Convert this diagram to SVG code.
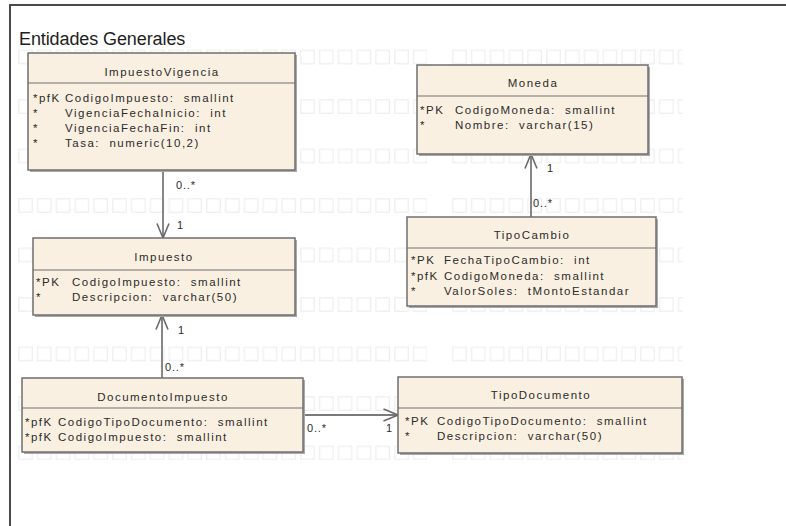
<svg xmlns="http://www.w3.org/2000/svg" width="786" height="526" viewBox="0 0 786 526">
<style>
  .frame { stroke: #4a4a4a; stroke-width: 2; fill: none; }
  .title { font-family: "Liberation Sans", Arial, sans-serif; font-size: 18px; fill: #1e1e1e; letter-spacing: -0.1px; }
  .shadow { fill: #a9a9a9; }
  .box { fill: #faf0e1; stroke: #6f6f6f; stroke-width: 1.5; }
  .div { stroke: #6f6f6f; stroke-width: 1.2; }
  .hdr { font-family: "Liberation Sans", Arial, sans-serif; font-size: 11.5px; fill: #2b2b2b; letter-spacing: 1.5px; text-anchor: middle; }
  .att { font-family: "Liberation Sans", Arial, sans-serif; font-size: 11.5px; fill: #2b2b2b; letter-spacing: 1.5px; white-space: pre; }
  .lbl { font-family: "Liberation Sans", Arial, sans-serif; font-size: 11px; fill: #2b2b2b; letter-spacing: 0.8px; }
  .conn { stroke: #7a7a7a; stroke-width: 1.8; fill: none; marker-end: url(#open); }
  .tile { fill: none; stroke: #eeeeee; stroke-width: 1.2; }
</style>
<defs>
  <marker id="open" viewBox="0 0 16 14" refX="15.5" refY="7" markerWidth="16" markerHeight="14" markerUnits="userSpaceOnUse" orient="auto">
    <path d="M1,1 L15.5,7 L1,13" fill="none" stroke="#6a6a6a" stroke-width="1.6"/>
  </marker>
  <pattern id="grid" x="18" y="0" width="18.8" height="49.5" patternUnits="userSpaceOnUse">
    <rect class="tile" x="0.8" y="0.8" width="13.4" height="13.4"/>
  </pattern>
  <pattern id="grid2" x="452" y="0" width="18.8" height="49.5" patternUnits="userSpaceOnUse">
    <rect class="tile" x="0.8" y="0.8" width="13.4" height="13.4"/>
  </pattern>
</defs>

<rect x="0" y="0" width="786" height="526" fill="#ffffff"/>

<!-- faint background tiles -->
<g id="background">
  <rect x="18" y="49" width="409" height="411" fill="url(#grid)"/>
  <rect x="452" y="49" width="231" height="411" fill="url(#grid2)"/>
</g>

<!-- package frame -->
<g id="frame">
  <path class="frame" d="M10,526 L10,5 L786,5"/>
  <text class="title" x="19" y="45">Entidades Generales</text>
</g>

<g id="connectors">
  <path class="conn" d="M163,170 L163,238"/>
  <text class="lbl" x="176" y="189">0..*</text>
  <text class="lbl" x="177" y="229">1</text>

  <path class="conn" d="M162,378 L162,315"/>
  <text class="lbl" x="178" y="334">1</text>
  <text class="lbl" x="165" y="371">0..*</text>

  <path class="conn" d="M531,217 L531,154"/>
  <text class="lbl" x="547" y="172">1</text>
  <text class="lbl" x="533" y="207">0..*</text>

  <path class="conn" d="M303,415 L398,415"/>
  <text class="lbl" x="307" y="432">0..*</text>
  <text class="lbl" x="386" y="432">1</text>
</g>

<g id="ImpuestoVigencia">
  <rect class="shadow" x="30" y="55" width="267" height="117"/>
  <rect class="box" x="28" y="53" width="267" height="117"/>
  <line class="div" x1="28" y1="83" x2="295" y2="83"/>
  <text class="hdr" x="162" y="76">ImpuestoVigencia</text>
  <text class="att" x="33" y="102">*pfK</text><text class="att" x="65" y="102">CodigoImpuesto:  smallint</text>
  <text class="att" x="33" y="117">*</text><text class="att" x="65" y="117">VigenciaFechaInicio:  int</text>
  <text class="att" x="33" y="132">*</text><text class="att" x="65" y="132">VigenciaFechaFin:  int</text>
  <text class="att" x="33" y="147">*</text><text class="att" x="65" y="147">Tasa:  numeric(10,2)</text>
</g>

<g id="Impuesto">
  <rect class="shadow" x="35" y="240" width="262" height="77"/>
  <rect class="box" x="33" y="238" width="262" height="77"/>
  <line class="div" x1="33" y1="270" x2="295" y2="270"/>
  <text class="hdr" x="164" y="261">Impuesto</text>
  <text class="att" x="36" y="286">*PK</text><text class="att" x="72" y="286">CodigoImpuesto:  smallint</text>
  <text class="att" x="36" y="301">*</text><text class="att" x="72" y="301">Descripcion:  varchar(50)</text>
</g>

<g id="DocumentoImpuesto">
  <rect class="shadow" x="24" y="380" width="281" height="74"/>
  <rect class="box" x="22" y="378" width="281" height="74"/>
  <line class="div" x1="22" y1="408" x2="303" y2="408"/>
  <text class="hdr" x="163" y="401">DocumentoImpuesto</text>
  <text class="att" x="25" y="426">*pfK</text><text class="att" x="58" y="426">CodigoTipoDocumento:  smallint</text>
  <text class="att" x="25" y="441">*pfK</text><text class="att" x="58" y="441">CodigoImpuesto:  smallint</text>
</g>

<g id="TipoDocumento">
  <rect class="shadow" x="400" y="379" width="284" height="76"/>
  <rect class="box" x="398" y="377" width="284" height="76"/>
  <line class="div" x1="398" y1="408" x2="682" y2="408"/>
  <text class="hdr" x="541" y="399">TipoDocumento</text>
  <text class="att" x="405" y="425">*PK</text><text class="att" x="437" y="425">CodigoTipoDocumento:  smallint</text>
  <text class="att" x="405" y="440">*</text><text class="att" x="437" y="440">Descripcion:  varchar(50)</text>
</g>

<g id="Moneda">
  <rect class="shadow" x="419" y="67" width="231" height="89"/>
  <rect class="box" x="417" y="65" width="231" height="89"/>
  <line class="div" x1="417" y1="96" x2="648" y2="96"/>
  <text class="hdr" x="533" y="87">Moneda</text>
  <text class="att" x="420" y="114">*PK</text><text class="att" x="455" y="114">CodigoMoneda:  smallint</text>
  <text class="att" x="420" y="129">*</text><text class="att" x="455" y="129">Nombre:  varchar(15)</text>
</g>

<g id="TipoCambio">
  <rect class="shadow" x="409" y="219" width="249" height="89"/>
  <rect class="box" x="407" y="217" width="249" height="89"/>
  <line class="div" x1="407" y1="248" x2="656" y2="248"/>
  <text class="hdr" x="532" y="239">TipoCambio</text>
  <text class="att" x="411" y="264">*PK</text><text class="att" x="444" y="264">FechaTipoCambio:  int</text>
  <text class="att" x="411" y="280">*pfK</text><text class="att" x="444" y="280">CodigoMoneda:  smallint</text>
  <text class="att" x="411" y="295">*</text><text class="att" x="444" y="295">ValorSoles:  tMontoEstandar</text>
</g>
</svg>
